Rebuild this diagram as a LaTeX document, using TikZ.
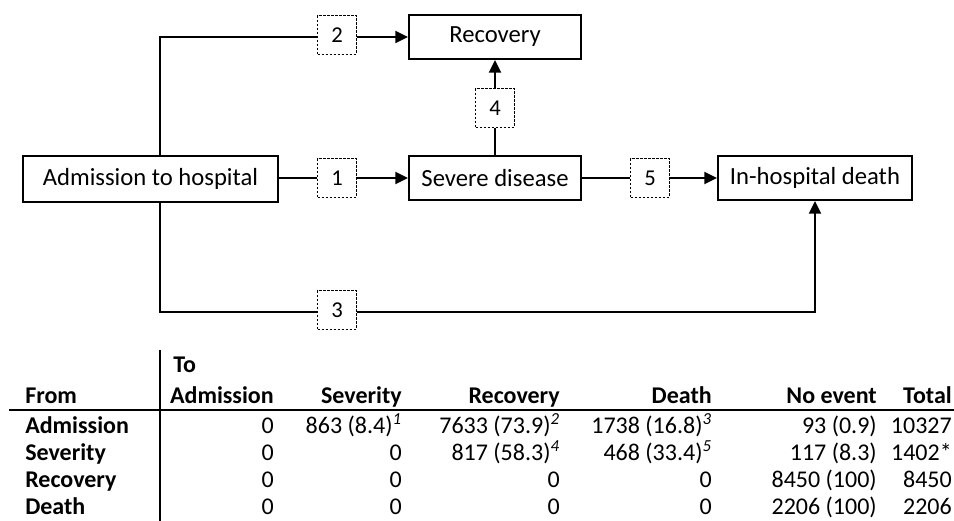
\documentclass[tikz,border=0pt]{standalone}
\usepackage{fontspec}
\setmainfont{Carlito}
\usetikzlibrary{arrows.meta}
\newcommand\sups[1]{\textsuperscript{\textit{#1}}}
\tikzset{
  statebox/.style={draw, line width=1.6pt, minimum height=33pt, inner sep=0pt,
    font=\fontsize{18.5}{20}\selectfont},
  numbox/.style={draw, dash pattern=on 2pt off 1pt, line width=0.8pt,
    minimum size=29pt, inner sep=0pt, font=\fontsize{17}{18}\selectfont},
  link/.style={line width=1.7pt},
  flow/.style={line width=1.7pt, -{Triangle[length=9.5pt,width=9pt]}},
  cell/.style={anchor=base east, inner sep=0pt, font=\fontsize{18}{20}\selectfont},
  lab/.style={anchor=base west, inner sep=0pt, font=\bfseries\fontsize{18}{20}\selectfont}
}
\begin{document}
\begin{tikzpicture}[x=0.75pt,y=-0.75pt]
\useasboundingbox (0,0) rectangle (954,521);

% states
\node[statebox, minimum width=191pt, minimum height=34.5pt] (adm) at (150.5,179) {Admission to hospital};
\node[statebox, minimum width=129pt] (sev) at (495,178) {Severe disease};
\node[statebox, minimum width=129pt] (rec) at (495,37) {Recovery};
\node[statebox, minimum width=145.5pt] (dth) at (815,178) {In-hospital death};

% transitions
\node[numbox] (t1) at (337,178) {1};
\node[numbox] (t2) at (337,35) {2};
\node[numbox] (t3) at (337,310) {3};
\node[numbox] (t4) at (495,108) {4};
\node[numbox] (t5) at (650,178) {5};

\coordinate (up) at (160,37);
\coordinate (dn) at (160,312);
\coordinate (dnr) at (815,312);

\draw[link] (adm.east |- t1) -- (t1);
\draw[flow] (t1) -- (sev.west |- t1);
\draw[link] (adm.north -| up) -- (up) -- (t2.west |- up);
\draw[flow] (t2.east |- rec) -- (rec);
\draw[link] (adm.south -| dn) -- (dn) -- (t3.west |- dn);
\draw[flow] (t3.east |- dn) -- (dnr) -- (dth);
\draw[link] (sev) -- (t4);
\draw[flow] (t4) -- (rec);
\draw[link] (sev) -- (t5);
\draw[flow] (t5) -- (dth);

% table
\draw[line width=1.2pt] (160,350) -- (160,521);
\draw[line width=1.2pt] (9,410) -- (954,410);
\node[lab] (to) at (173,372) {To};
\node[lab] (from) at (25,403) {From};
\foreach \x/\h [count=\c] in {274/Admission,402/Severity,560/Recovery,712/Death,877/No event,952/Total}
  \node[cell, font=\bfseries\fontsize{18}{20}\selectfont] (head-\c) at (\x,403) {\h};

\foreach \y/\rowlab/\va/\vb/\vc/\vd/\ve/\vf [count=\r] in {
  433/Admission/0/{863 (8.4)\sups{1}}/{7633 (73.9)\sups{2}}/{1738 (16.8)\sups{3}}/93 (0.9)/10327,
  460/Severity/0/0/{817 (58.3)\sups{4}}/{468 (33.4)\sups{5}}/117 (8.3)/1402*,
  487/Recovery/0/0/0/0/8450 (100)/8450,
  514/Death/0/0/0/0/2206 (100)/2206}
{
  \node[lab] (row-\r) at (25,\y) {\rowlab};
  \node[cell] (c1-\r) at (274,\y) {\va};
  \node[cell] (c2-\r) at (402,\y) {\vb};
  \node[cell] (c3-\r) at (560,\y) {\vc};
  \node[cell] (c4-\r) at (712,\y) {\vd};
  \node[cell] (c5-\r) at (877,\y) {\ve};
  \node[cell] (c6-\r) at (952,\y) {\vf};
}
\end{tikzpicture}
\end{document}
